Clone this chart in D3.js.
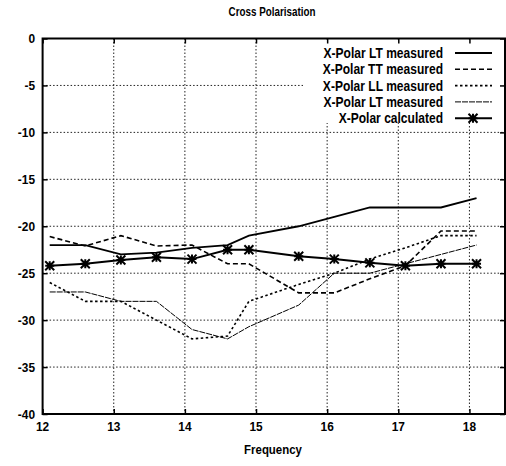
<!DOCTYPE html>
<html>
<head>
<meta charset="utf-8">
<script src="https://cdn.jsdelivr.net/npm/d3@7"></script>
<style>
  html, body { margin: 0; padding: 0; background: #fff; }
  svg { display: block; }
  text { font-family: 'Liberation Sans', Arial, sans-serif; font-weight: bold; fill: #000; }
</style>
</head>
<body>
<svg id="chart" width="506" height="466"></svg>
<script>
const title = "Cross Polarisation";
const xLabel = "Frequency";
const frequency = [12.1, 12.6, 13.1, 13.6, 14.1, 14.6, 14.9, 15.6, 16.1, 16.6, 17.1, 17.6, 18.1];
const ltMeasured  = [-22, -22, -23, -22.8, -22.3, -22, -21, -20, -19, -18, -18, -18, -17];
const ttMeasured  = [-21.1, -22.1, -21, -22.1, -22, -24, -24, -27.1, -27.1, -25.6, -24.2, -20.5, -20.5];
const llMeasured  = [-26, -28, -28, -30, -32, -31.7, -28, -26.2, -25, -23.5, -22.3, -21, -21];
const lt2Measured = [-27, -27, -28, -28, -31, -32, -30.7, -28.4, -25, -25, -24, -23, -22];
const calculated  = [-24.2, -24, -23.6, -23.3, -23.5, -22.5, -22.5, -23.2, -23.5, -23.9, -24.2, -24, -24];
const seriesNames = ["X-Polar LT measured", "X-Polar TT measured", "X-Polar LL measured", "X-Polar LT measured", "X-Polar calculated"];
const xTicks = [12, 13, 14, 15, 16, 17, 18];
const yTicks = [0, -5, -10, -15, -20, -25, -30, -35, -40];

const svg = d3.select("#chart");
const L = 42.6, R = 505, T = 38.5, B = 414;
const x = d3.scaleLinear().domain([12, 18.5]).range([L, R]);
const y = d3.scaleLinear().domain([-40, 0]).range([B, T]);

// condensed text helper
function ctext(g, px, py, str, size, anchor, sx) {
  return g.append("text")
    .attr("transform", `translate(${px},${py}) scale(${sx},1)`)
    .attr("dy", "0.35em").attr("text-anchor", anchor)
    .attr("font-size", size).text(str);
}

// grid
const grid = svg.append("g");
grid.selectAll(".gx").data(xTicks.slice(1)).join("line")
  .attr("x1", d => x(d)).attr("x2", d => x(d)).attr("y1", T).attr("y2", B)
  .attr("stroke", "#222").attr("stroke-width", 1).attr("stroke-dasharray", "1.5,2");
grid.selectAll(".gy").data(yTicks.slice(1, -1)).join("line")
  .attr("y1", d => y(d)).attr("y2", d => y(d)).attr("x1", L).attr("x2", R)
  .attr("stroke", "#222").attr("stroke-width", 1).attr("stroke-dasharray", "1.5,2");

// legend background hides grid
const legRowH = 16.3, legRow0 = 53;
svg.append("rect").attr("x", 303).attr("y", 41).attr("width", R - 305).attr("height", 82).attr("fill", "#fff");

// axes with inside ticks (labels drawn separately, condensed)
const axB = svg.append("g").attr("transform", `translate(0,${B})`)
  .call(d3.axisBottom(x).tickValues(xTicks).tickSizeInner(-5).tickSizeOuter(0).tickFormat(""));
const axT = svg.append("g").attr("transform", `translate(0,${T})`)
  .call(d3.axisTop(x).tickValues(xTicks).tickSizeInner(-5).tickSizeOuter(0).tickFormat(""));
const axL = svg.append("g").attr("transform", `translate(${L},0)`)
  .call(d3.axisLeft(y).tickValues(yTicks).tickSizeInner(-5).tickSizeOuter(0).tickFormat(""));
const axR = svg.append("g").attr("transform", `translate(${R},0)`)
  .call(d3.axisRight(y).tickValues(yTicks).tickSizeInner(-5).tickSizeOuter(0).tickFormat(""));
[axB, axT, axL, axR].forEach(a => {
  a.select(".domain").remove();
  a.selectAll("line").attr("stroke", "#000").attr("stroke-width", 1.5);
});
const labels = svg.append("g");
xTicks.forEach(t => ctext(labels, x(t), 426, String(t), 13.5, "middle", 0.88));
yTicks.forEach(t => ctext(labels, 35, y(t), String(t), 13.5, "end", 0.88));

// frame
svg.append("rect").attr("x", L).attr("y", T).attr("width", R - L).attr("height", B - T)
  .attr("fill", "none").attr("stroke", "#000").attr("stroke-width", 2);

// series
const styles = [
  { data: ltMeasured,  w: 1.8, dash: null },
  { data: ttMeasured,  w: 1.6, dash: "5,3" },
  { data: llMeasured,  w: 1.6, dash: "2.5,2.5" },
  { data: lt2Measured, w: 1.0, dash: "6,1" },
  { data: calculated,  w: 2.0, dash: null }
];
const line = d3.line().x((d, i) => x(frequency[i])).y(d => y(d));
styles.forEach(s => {
  svg.append("path").datum(s.data).attr("d", line)
    .attr("fill", "none").attr("stroke", "#000").attr("stroke-width", s.w)
    .attr("stroke-dasharray", s.dash).attr("stroke-linejoin", "miter");
});
function star(g, cx, cy) {
  const r = 4.5;
  g.append("path")
    .attr("d", `M${cx - r},${cy}H${cx + r}M${cx},${cy - r}V${cy + r}M${cx - r},${cy - r}L${cx + r},${cy + r}M${cx - r},${cy + r}L${cx + r},${cy - r}`)
    .attr("stroke", "#000").attr("stroke-width", 2).attr("fill", "none");
}
const markers = svg.append("g");
calculated.forEach((v, i) => star(markers, x(frequency[i]), y(v)));

// legend
const leg = svg.append("g");
seriesNames.forEach((name, i) => {
  const yy = legRow0 + i * legRowH;
  ctext(leg, 443, yy, name, 14, "end", 0.86);
  const s = styles[i];
  leg.append("line").attr("x1", 455).attr("x2", 492).attr("y1", yy).attr("y2", yy)
    .attr("stroke", "#000").attr("stroke-width", s.w).attr("stroke-dasharray", s.dash);
  if (i === 4) star(leg, 473, yy);
});

// titles
ctext(svg, 272, 12, title, 12, "middle", 0.82);
ctext(svg, 273, 449, xLabel, 13, "middle", 0.88);
</script>
</body>
</html>
